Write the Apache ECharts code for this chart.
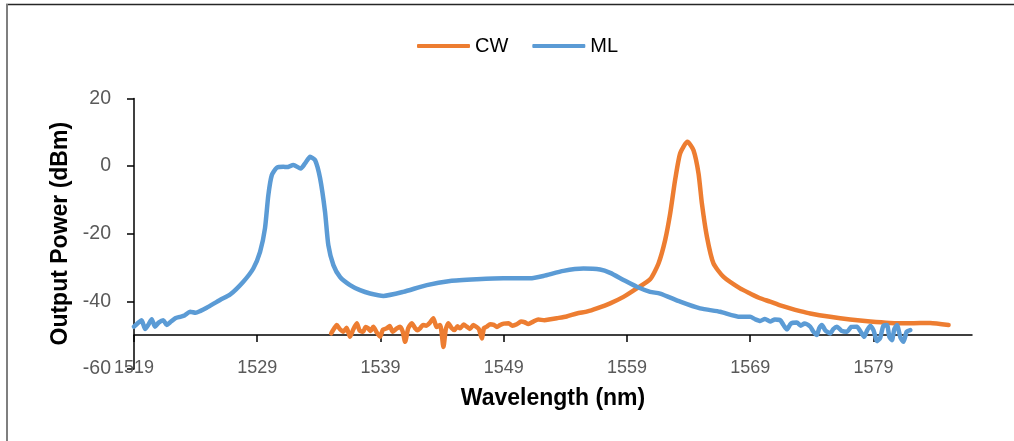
<!DOCTYPE html>
<html>
<head>
<meta charset="utf-8">
<script src="https://cdn.jsdelivr.net/npm/echarts@6/dist/echarts.min.js"></script>
<style>
html,body{margin:0;padding:0;background:#fff;}
#chart{width:1014px;height:441px;}
</style>
</head>
<body>
<div id="chart"></div>
<script>
// Wavelength ticks (nm)
const xTicks = [1519, 1529, 1539, 1549, 1559, 1569, 1579];
const yTicks = [-60, -40, -20, 0, 20];

// CW spectrum: wavelength (nm) and output power (dBm)
const cwWavelength = [
  1535.0,1535.25,1535.45,1535.7,1535.99,1536.25,1536.53,1536.8,1537.08,1537.3,
  1537.59,1537.8,1538.0,1538.2,1538.42,1538.7,1538.97,1539.2,1539.51,1539.75,
  1540.0,1540.3,1540.59,1540.8,1541.0,1541.25,1541.54,1541.8,1542.0,1542.21,
  1542.45,1542.7,1543.0,1543.29,1543.55,1543.84,1544.11,1544.3,1544.51,1544.75,
  1545.0,1545.25,1545.46,1545.75,1546.0,1546.25,1546.54,1546.8,1547.0,1547.22,
  1547.4,1547.63,1547.9,1548.2,1548.45,1548.71,1549.0,1549.4,1549.7,1550.06,
  1550.4,1550.7,1551.0,1551.41,1551.8,1552.3,1552.8,1553.31,
  1554.1,1554.93,1555.8,1556.56,1557.64,1558.72,1559.8,1560.88,1561.56,1562.1,
  1562.51,1562.91,1563.32,1563.91,1564.4,1564.81,1565.08,1565.49,1566.02,1566.84,
  1568.18,1569.0,1569.81,1570.62,1571.44,1572.25,1573.06,1573.87,1575.49,1577.11,
  1578.74,1580.36,1581.99,1583.61,1585.1];
const cwPower = [
  -49.5,-48.0,-47.0,-48.2,-49.0,-47.8,-50.5,-48.3,-46.5,-48.6,
  -49.0,-47.6,-48.0,-48.8,-47.5,-49.2,-50.5,-48.4,-48.0,-47.3,
  -49.0,-48.1,-47.5,-48.9,-52.0,-48.0,-46.5,-47.9,-48.6,-48.0,
  -47.0,-47.2,-46.4,-45.0,-47.6,-47.0,-53.5,-48.3,-46.5,-47.8,
  -48.5,-47.4,-48.0,-46.9,-47.5,-48.2,-47.0,-47.6,-48.3,-51.0,
  -47.9,-47.5,-46.8,-47.0,-47.6,-47.0,-46.6,-46.5,-47.2,-46.8,
  -46.0,-46.2,-46.7,-46.0,-45.4,-45.6,-45.3,-45.0,
  -44.5,-43.6,-43.0,-42.1,-40.6,-38.7,-36.2,-33.5,-28.8,-21.9,
  -14.0,-4.1,3.8,7.2,4.7,-2.2,-11.0,-20.9,-28.8,-32.8,
  -36.2,-37.7,-39.1,-40.1,-41.2,-42.1,-42.9,-43.6,-44.6,-45.4,
  -46.0,-46.4,-46.5,-46.4,-47.0];

// ML spectrum: wavelength (nm) and output power (dBm)
const mlWavelength = [
  1519.0,1519.3,1519.62,1519.9,1520.15,1520.44,1520.7,1521.0,1521.38,1521.65,
  1522.0,1522.35,1522.73,1523.1,1523.55,1524.0,1524.36,1524.9,1525.98,1526.8,
  1527.87,1528.68,1529.23,1529.63,1529.9,1530.18,1530.58,1531.12,1531.4,1531.93,
  1532.53,1532.88,1533.29,1533.69,1534.1,1534.5,1534.77,1535.18,1535.72,1536.53,
  1537.34,1538.16,1539.24,1540.86,1542.76,1544.65,1546.82,1548.98,1551.14,1552.22,
  1553.85,1555.47,1556.82,1557.64,1558.72,1559.8,1560.88,1561.69,1563.32,1564.94,
  1566.56,1568.18,1569.0,1569.4,1569.81,1570.2,1570.62,1571.0,1571.44,1571.7,
  1571.98,1572.3,1572.79,1573.1,1573.4,1573.87,1574.1,1574.41,1574.6,1574.82,
  1575.1,1575.49,1575.75,1576.04,1576.4,1576.85,1577.2,1577.66,1578.0,1578.25,
  1578.5,1578.75,1579.01,1579.3,1579.55,1579.8,1580.1,1580.3,1580.5,1580.7,
  1580.91,1581.2,1581.44,1581.7,1581.99];
const mlPower = [
  -47.5,-46.5,-45.6,-48.2,-47.0,-45.3,-47.5,-46.3,-45.6,-47.0,
  -46.0,-45.0,-44.6,-44.2,-43.1,-43.4,-42.9,-41.9,-39.6,-38.0,
  -34.2,-30.3,-25.4,-18.4,-8.6,-2.7,-0.5,-0.2,-0.3,0.3,
  -0.7,0.8,2.75,1.8,-3.6,-13.5,-23.4,-29.3,-32.8,-35.2,
  -36.7,-37.7,-38.4,-37.2,-35.2,-34.0,-33.5,-33.2,-33.2,-32.5,
  -31.0,-30.3,-30.6,-31.6,-33.7,-35.7,-37.2,-37.7,-40.1,-42.1,
  -43.1,-44.6,-44.6,-45.3,-45.8,-45.2,-46.0,-45.4,-45.6,-47.0,
  -48.3,-46.6,-46.3,-47.2,-46.6,-47.5,-48.8,-50.0,-48.0,-47.0,
  -48.6,-49.5,-48.2,-47.5,-48.7,-49.0,-47.6,-47.5,-49.2,-50.5,
  -48.5,-47.3,-48.6,-51.8,-50.8,-47.3,-47.0,-50.6,-51.5,-48.2,
  -47.0,-50.8,-52.0,-49.0,-48.5];

const zip = (xs, ys) => xs.map((x, i) => [x, ys[i]]);

const chart = echarts.init(document.getElementById('chart'), null, {renderer: 'canvas'});
const gridTop = 98.5, gridH = 270.4;
const option = {
  animation: false,
  textStyle: {fontFamily: 'Liberation Sans'},
  graphic: [
    {type: 'line', shape: {x1: 6, y1: 4.5, x2: 1014, y2: 4.5}, style: {stroke: '#262626', lineWidth: 1.5}},
    {type: 'line', shape: {x1: 7, y1: 4, x2: 7, y2: 441}, style: {stroke: '#7f7f7f', lineWidth: 2}}
  ],
  legend: {
    left: 412, top: 31,
    icon: 'roundRect',
    itemWidth: 53, itemHeight: 4, itemGap: 24,
    textStyle: {fontSize: 20, color: '#000', fontFamily: 'Liberation Sans'},
    data: ['CW', 'ML']
  },
  grid: {left: 134, right: 42, top: gridTop, height: gridH},
  xAxis: {
    type: 'value', min: 1519, max: 1587,
    offset: -gridH / 8,
    name: 'Wavelength (nm)', nameLocation: 'middle', nameGap: 52,
    nameTextStyle: {fontSize: 23, fontWeight: 'bold', color: '#000', fontFamily: 'Liberation Sans'},
    axisLine: {show: true, onZero: false, lineStyle: {color: '#000', width: 1.5}},
    axisTick: {show: true, length: 7, lineStyle: {color: '#000', width: 1.5}, customValues: xTicks},
    axisLabel: {fontSize: 18, color: '#595959', margin: 24, customValues: xTicks, formatter: v => String(v)},
    splitLine: {show: false}
  },
  yAxis: {
    type: 'value', min: -60, max: 20, interval: 20,
    name: 'Output Power (dBm)', nameLocation: 'middle', nameGap: 62, nameRotate: 90,
    nameTextStyle: {fontSize: 23, fontWeight: 'bold', color: '#000', fontFamily: 'Liberation Sans'},
    axisLine: {show: true, onZero: false, lineStyle: {color: '#000', width: 1.5}},
    axisTick: {show: true, length: 7, lineStyle: {color: '#000', width: 1.5}},
    axisLabel: {fontSize: 19.5, color: '#595959', margin: 23},
    splitLine: {show: false}
  },
  series: [
    {name: 'CW', type: 'line', data: zip(cwWavelength, cwPower), symbol: 'none', smooth: 0.2,
     lineStyle: {color: '#ED7D31', width: 4.5, cap: 'round', join: 'round'}, itemStyle: {color: '#ED7D31'}},
    {name: 'ML', type: 'line', data: zip(mlWavelength, mlPower), symbol: 'none', smooth: 0.2,
     lineStyle: {color: '#5B9BD5', width: 4.5, cap: 'round', join: 'round'}, itemStyle: {color: '#5B9BD5'}}
  ]
};
chart.setOption(option);
</script>
</body>
</html>
